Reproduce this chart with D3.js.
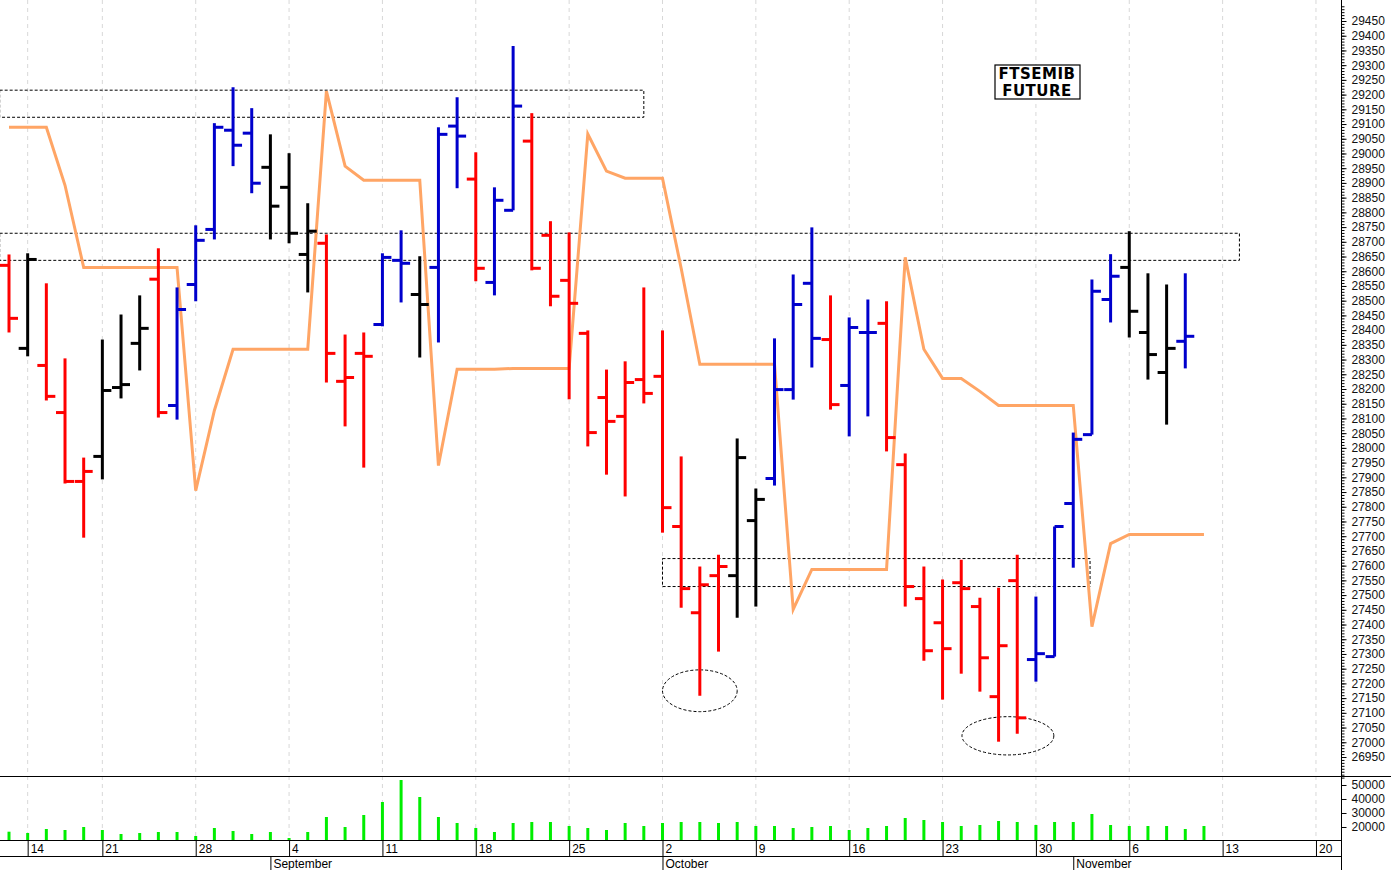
<!DOCTYPE html>
<html><head><meta charset="utf-8">
<script src="https://cdn.jsdelivr.net/npm/d3@7"></script>
<style>body{margin:0;background:#fff}svg{display:block}text{font-family:"Liberation Sans",Arial,sans-serif}</style>
</head><body><svg id="c" width="1391" height="870"></svg>
<script>
const opens=[28620,28338,28280,28120,27886,27971,28205,28355,28573,28144,28555,28742,29079,29069,28953,28885,28657,28695,28226,28321,28419,28637,28521,28613,29093,28913,28562,28807,29042,28722,28569,28389,28171,28107,28232,28243,27733,27440,27566,27566,27753,27896,28198,28559,28368,28212,28392,28423,27943,27488,27406,27542,27461,27155,27549,27281,27291,27811,28045,28504,28613,28392,28256,28362,28389];
const highs=[28657,28661,28559,28304,27967,28368,28453,28518,28678,28545,28756,29103,29225,29154,29065,29001,28831,28725,28385,28392,28661,28739,28651,29089,29191,29004,28885,29365,29137,28770,28732,28399,28266,28294,28545,28399,27971,27597,27637,28032,27862,28372,28589,28749,28518,28443,28504,28498,27981,27597,27553,27620,27491,27525,27637,27495,27733,28052,28572,28658,28736,28593,28555,28593,28651];
const lows=[28392,28311,28161,27879,27695,27893,28168,28263,28103,28096,28498,28708,28957,28865,28708,28695,28528,28222,28073,27933,28413,28494,28307,28358,28882,28566,28518,28807,28603,28481,28165,28005,27909,27835,28151,27712,27457,27158,27308,27423,27461,27872,28164,28273,28130,28039,28107,27988,27461,27277,27145,27233,27172,27002,27029,27206,27291,27593,28045,28426,28375,28232,28079,28270,28263];
const closes=[28440,28640,28175,27886,27920,28195,28215,28406,28120,28470,28705,29089,29028,28899,28821,28729,28736,28321,28239,28311,28647,28627,28487,29065,29059,28610,28841,29161,28610,28515,28491,28052,28090,28222,28185,27797,27522,27535,27597,27967,27825,28198,28487,28372,28147,28409,28392,28035,27529,27311,27318,27522,27287,27328,27083,27301,27733,28029,28532,28583,28464,28317,28338,28379,28627];
const signal="DNDDDNNNDUUUUUNNNDDDUUNUUDUUDDDDDDDDDDDNNUUUDUUDDDDDDDDUUUUUNNNU".split("");
const stopLine=[29089,29089,29089,28892,28613,28613,28613,28613,28613,28613,27855,28127,28335,28335,28335,28335,28335,29212,28957,28909,28909,28909,28909,27940,28267,28267,28267,28270,28270,28270,28270,29066,28940,28916,28916,28916,28610,28284,28284,28284,28284,28284,27451,27587,27587,27587,27587,27587,28647,28335,28236,28236,28192,28144,28144,28144,28144,28144,27393,27675,27706,27706,27706,27706,27706];
const volumes=[16640,15720,18570,17860,20000,17860,15000,15720,16430,16430,13570,19290,17140,15000,16430,12150,16430,27140,20000,28570,37850,53560,41420,27140,22860,19290,16430,22860,23570,23570,20710,19290,17860,22860,20710,22860,23570,23570,22860,23570,20710,20710,19290,20000,20710,17860,19290,20710,26430,25000,23570,20710,21430,24280,23570,21430,23570,23570,29280,21430,20710,20710,20710,18570,20710];
const weekIdx=[1,5,10,15,20,25,30,35,40,45,50,55,60,65,70];
const weekLabels=["14","21","28","4","11","18","25","2","9","16","23","30","6","13","20"];
const monthIdx=[14,35,57];
const monthLabels=["September","October","November"];
const zones=[{i0:-0.5,i1:34,v0:29123,v1:29215},{i0:-0.5,i1:65.9,v0:28637,v1:28729},{i0:35,i1:57.9,v0:27529,v1:27624}];
const circles=[{i:37,v:27175,ri:2,rv:71},{i:53.5,v:27022,ri:2.46,rv:65}];

const svg=d3.select("#c");
const W=1341;
const x=d3.scaleLinear().domain([-0.482,71.34]).range([0,W]);
const y=d3.scaleLinear().domain([26950,29450]).range([757,21]);
const yv=d3.scaleLinear().domain([10700,56430]).range([840,776]);
const col={U:"#0000cc",D:"#ff0000",N:"#000000"};

svg.append("g").selectAll("line").data(weekIdx).join("line")
 .attr("x1",d=>x(d)).attr("x2",d=>x(d)).attr("y1",0).attr("y2",840)
 .attr("stroke","#d8d8d8").attr("stroke-dasharray","4,4");

svg.append("g").selectAll("rect").data(zones).join("rect")
 .attr("x",d=>x(d.i0)).attr("width",d=>x(d.i1)-x(d.i0))
 .attr("y",d=>y(d.v1)).attr("height",d=>y(d.v0)-y(d.v1))
 .attr("fill","none").attr("stroke","#000").attr("stroke-dasharray","3,2");
svg.append("g").selectAll("ellipse").data(circles).join("ellipse")
 .attr("cx",d=>x(d.i)).attr("cy",d=>y(d.v)).attr("rx",d=>x(d.ri)-x(0)).attr("ry",d=>y(d.v-d.rv)-y(d.v))
 .attr("fill","none").attr("stroke","#000").attr("stroke-dasharray","3,2");

svg.append("path").datum(stopLine).attr("fill","none").attr("stroke","#ffa565").attr("stroke-width",3)
 .attr("d",d3.line().x((d,i)=>x(i)).y(d=>y(d)));

const bars=svg.append("g").selectAll("g").data(opens.map((o,i)=>({i,o,h:highs[i],l:lows[i],c:closes[i],s:signal[i]}))).join("g")
 .attr("stroke",d=>col[d.s]).attr("stroke-width",3);
bars.append("line").attr("x1",d=>x(d.i)).attr("x2",d=>x(d.i)).attr("y1",d=>y(d.h)).attr("y2",d=>y(d.l));
bars.append("line").attr("x1",d=>x(d.i)-9).attr("x2",d=>x(d.i)).attr("y1",d=>y(d.o)).attr("y2",d=>y(d.o));
bars.append("line").attr("x1",d=>x(d.i)).attr("x2",d=>x(d.i)+9).attr("y1",d=>y(d.c)).attr("y2",d=>y(d.c));

svg.append("rect").attr("x",995).attr("y",65).attr("width",85).attr("height",34).attr("fill","#fff").attr("stroke","#000").attr("stroke-width",1.2);
svg.append("text").attr("x",1037).attr("y",79).attr("text-anchor","middle").attr("font-weight","bold").attr("font-size",15).style("font-family","DejaVu Sans").attr("letter-spacing",0.5).text("FTSEMIB");
svg.append("text").attr("x",1037).attr("y",96).attr("text-anchor","middle").attr("font-weight","bold").attr("font-size",15).style("font-family","DejaVu Sans").attr("letter-spacing",0.5).text("FUTURE");

svg.append("g").selectAll("line").data(volumes).join("line")
 .attr("x1",(d,i)=>x(i)).attr("x2",(d,i)=>x(i)).attr("y1",yv.range()[0]).attr("y2",d=>yv(d))
 .attr("stroke","#00ee00").attr("stroke-width",3);

const hl=(y0,x0,x1)=>svg.append("line").attr("x1",x0).attr("x2",x1).attr("y1",y0).attr("y2",y0).attr("stroke","#000");
hl(776.5,0,1391);hl(840.5,0,W);hl(856.5,0,W);

const pa=svg.append("g").attr("transform",`translate(${W+0.5},0)`);
pa.append("line").attr("y1",0).attr("y2",870).attr("stroke","#000");
pa.call(d3.axisRight(y).tickValues(d3.range(26950,29451,50)).tickSize(5).tickFormat(d3.format("d")))
 .call(g=>g.select(".domain").remove()).call(g=>g.selectAll("text").attr("font-size",12).attr("x",10).attr("fill","#111"));
pa.append("g").call(d3.axisRight(y).tickValues(d3.range(26880,29510,10)).tickSize(3).tickFormat(""))
 .call(g=>g.select(".domain").remove());
pa.append("g").call(d3.axisRight(yv).tickValues([20000,30000,40000,50000]).tickSize(5).tickFormat(d3.format("d")))
 .call(g=>g.select(".domain").remove()).call(g=>g.selectAll("text").attr("font-size",12).attr("x",10).attr("fill","#111"));

const da=svg.append("g");
da.selectAll("line.w").data(weekIdx).join("line").attr("class","w").attr("x1",d=>x(d)+0.5).attr("x2",d=>x(d)+0.5).attr("y1",840).attr("y2",856).attr("stroke","#000");
da.selectAll("text.w").data(weekLabels).join("text").attr("class","w").attr("x",(d,i)=>x(weekIdx[i])+3).attr("y",853).attr("font-size",12).text(d=>d);
da.selectAll("line.m").data(monthIdx).join("line").attr("class","m").attr("x1",d=>x(d)+0.5).attr("x2",d=>x(d)+0.5).attr("y1",856).attr("y2",870).attr("stroke","#000");
da.selectAll("text.m").data(monthLabels).join("text").attr("class","m").attr("x",(d,i)=>x(monthIdx[i])+3).attr("y",868).attr("font-size",12).text(d=>d);
</script></body></html>
